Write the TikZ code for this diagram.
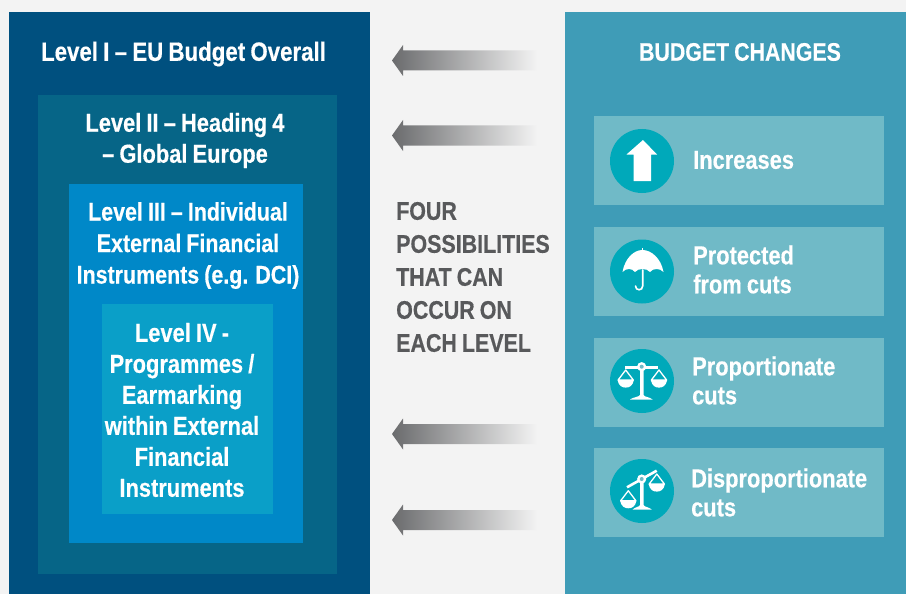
\documentclass[tikz,border=0pt]{standalone}
\usepackage{fontspec}
\setmainfont[FakeStretch=0.84,FakeBold=0.4,WordSpace=0.85]{Liberation Sans}
\begin{document}
\begin{tikzpicture}[x=1pt,y=-1pt,
  lab/.style={text=white,font=\bfseries\fontsize{26}{31}\selectfont,align=center,inner sep=0pt},
  side/.style={text=white,font=\bfseries\fontsize{26}{29}\selectfont,align=left,anchor=west,inner sep=0pt},
  card/.style={fill=cardc,draw=none},
  disc/.style={fill=discc,draw=none},
  icon/.style={fill=white,draw=none},
  iconline/.style={draw=white,line width=1.6pt}]
\definecolor{bgc}{HTML}{F3F3F3}
\definecolor{l1c}{HTML}{00507F}
\definecolor{l2c}{HTML}{066587}
\definecolor{l3c}{HTML}{0088C8}
\definecolor{l4c}{HTML}{0A9FC8}
\definecolor{rightc}{HTML}{3F9CB7}
\definecolor{cardc}{HTML}{70BAC7}
\definecolor{discc}{HTML}{00A9BA}
\definecolor{greyt}{HTML}{58595B}
\definecolor{arrowc}{HTML}{6A6B6D}
\definecolor{arrowm}{HTML}{CDCECF}
\tikzset{
  grarrow/.pic={
    \shade[left color=arrowc,middle color=arrowm,right color=bgc,draw=none]
      (0,0) -- (11,-15.5) -- (11,-10) -- (145,-10) -- (145,10) -- (11,10) -- (11,15.5) -- cycle;
  },
  panpair/.pic={
    \draw[draw=white,line width=1.3pt,line join=round] (0,0) -- (-7.6,10) -- (7.6,10) -- cycle;
    \fill[white] (-8.2,10) -- (8.2,10) .. controls (7,16) and (3.5,17.6) .. (0,17.6) .. controls (-3.5,17.6) and (-7,16) .. (-8.2,10) -- cycle;
  }
}
\path[use as bounding box,fill=bgc] (0,0) rectangle (906,594);
\fill[l1c] (9,12) rectangle (370,594);
\fill[l2c] (38,95) rectangle (337,574);
\fill[l3c] (69,184) rectangle (303,543);
\fill[l4c] (102,304) rectangle (273,514);
\fill[rightc] (565,12) rectangle (906,594);
\node[lab,font=\bfseries\fontsize{26.5}{31}\selectfont] (t1) at (183.5,54) {Level I – EU Budget Overall};
\node[lab] (t2) at (185,140.5) {Level II – Heading 4\\– Global Europe};
\node[lab,font=\bfseries\fontsize{25.5}{31.5}\selectfont] (t3) at (188,245.5) {Level III – Individual\\External Financial\\Instruments (e.g. DCI)};
\node[lab] (t4) at (182,410) {Level IV -\\Programmes /\\Earmarking\\within External\\Financial\\Instruments};
\node[text=greyt,font=\bfseries\fontsize{25.5}{33}\selectfont,align=left,anchor=west,inner sep=0pt] (four) at (396,277) {FOUR\\POSSIBILITIES\\THAT CAN\\OCCUR ON\\EACH LEVEL};
\node[lab,font=\bfseries\fontsize{25.4}{31}\selectfont] (head) at (740,52) {BUDGET CHANGES};
\pic at (392,60.5) {grarrow};
\pic at (392,135.5) {grarrow};
\pic at (392,434) {grarrow};
\pic at (392,520) {grarrow};
\fill[card] (594,116) rectangle (884,205);
\fill[card] (594,227) rectangle (884,316);
\fill[card] (594,338) rectangle (884,427);
\fill[card] (594,448) rectangle (884,537);
\fill[disc] (642,161) circle (32);
\fill[disc] (642,271.5) circle (32);
\fill[disc] (642,381) circle (32);
\fill[disc] (642,491) circle (32);
% up arrow
\fill[icon] (643,140) -- (657,154.5) -- (651,154.5) -- (651,181) -- (633.5,181) -- (633.5,154.5) -- (626.5,154.5) -- cycle;
% umbrella
\fill[icon] (622.5,272) .. controls (625,258) and (634,250) .. (642.5,250)
  .. controls (651,250) and (661,258) .. (663.5,272)
  .. controls (660,268) and (653,268) .. (650,272)
  .. controls (647,268) and (638,268) .. (635,272)
  .. controls (632,268) and (626,268) .. cycle;
\fill[icon] (642.2,248) rectangle (643,250);
\draw[iconline,line cap=round] (642.7,270) -- (642.7,286) .. controls (642.7,291) and (635.5,291) .. (635.5,286);
% level scales
\fill[icon] (625,366) rectangle (658,369);
\fill[icon] (640,370) -- (643.6,370) -- (643.6,395) .. controls (644,397) and (650,397) .. (652.5,399.5) -- (630,399.5) .. controls (633,397) and (639.5,397) .. (640,395) -- cycle;
\fill[icon] (641.7,366.7) circle (4.6);
\fill[cardc] (641.7,366.7) circle (2);
\pic at (625.7,370) {panpair};
\pic at (659,370) {panpair};
% tilted scales
\draw[draw=white,line width=2.6pt] (627,487.3) -- (656.7,470.7);
\fill[icon] (640,480) -- (643.6,480) -- (643.6,505) .. controls (644,507) and (649,507) .. (651.7,509.5) -- (632.7,509.5) .. controls (635,507) and (639.5,507) .. (640,505) -- cycle;
\fill[icon] (641.7,479) circle (4.6);
\fill[cardc] (641.7,479) circle (2);
\pic at (628.3,490.7) {panpair};
\pic at (656.8,474) {panpair};
\node[side] (inc) at (693,160) {Increases};
\node[side] (pro) at (693,269.5) {Protected\\from cuts};
\node[side] (prp) at (692,380.5) {Proportionate\\cuts};
\node[side] (dis) at (691,492.5) {Disproportionate\\cuts};
\end{tikzpicture}
\end{document}
